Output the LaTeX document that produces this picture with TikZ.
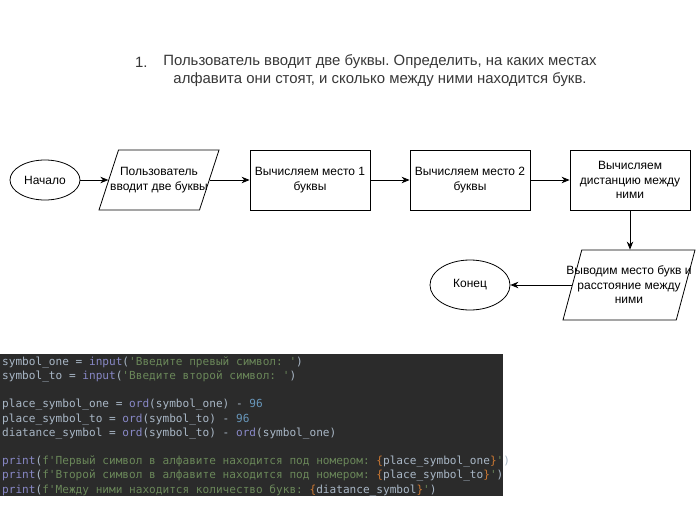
\documentclass[tikz,border=0pt]{standalone}
\usepackage{fontspec}
\setmainfont{Liberation Sans}
\newfontfamily\codefont{DejaVu Sans Mono}
\usetikzlibrary{shapes.geometric,arrows.meta}
\definecolor{cbg}{HTML}{2B2B2B}
\definecolor{cid}{HTML}{A9B7C6}
\definecolor{cfn}{HTML}{8888C6}
\definecolor{cstr}{HTML}{6A8759}
\definecolor{cnum}{HTML}{6897BB}
\definecolor{cbr}{HTML}{CC7832}
\definecolor{ttl}{HTML}{383838}
\newcommand{\kwF}[1]{\textcolor{cfn}{#1}}
\newcommand{\kwS}[1]{\textcolor{cstr}{#1}}
\newcommand{\kwN}[1]{\textcolor{cnum}{#1}}
\newcommand{\kwB}[1]{\textcolor{cbr}{#1}}
\newcommand{\q}{\textquotesingle}
\frenchspacing
\begin{document}
\begin{tikzpicture}[x=1pt,y=-1pt,
  box/.style={draw,line width=0.8pt,minimum width=120pt,minimum height=60pt,inner sep=0pt},
  term/.style={draw,ellipse,line width=0.8pt,inner sep=0pt},
  pio/.style={draw,trapezium,trapezium stretches body=true,line width=0.8pt,inner xsep=0pt},
  lbl/.style={font=\fontsize{12}{14.5}\selectfont,align=center,inner sep=0pt},
  ttlst/.style={font=\fontsize{14.9}{17}\selectfont,text=ttl,inner sep=0pt},
  arr/.style={-{Stealth[length=8pt,width=6.5pt]},line width=0.8pt},
  codeln/.style={anchor=base west,inner sep=0pt,font=\codefont\fontsize{11.1}{13}\selectfont\frenchspacing,text=cid}
]
\useasboundingbox (0,0) rectangle (696,509);
\fill[white] (0,0) rectangle (696,509);

% title
\node[ttlst,anchor=west] (num) at (135,62) {1.};
\node[ttlst] (t1) at (380,62) {Пользователь вводит две буквы. Определить, на каких местах};
\node[ttlst] (t2) at (380,80) {алфавита они стоят, и сколько между ними находится букв.};

% flowchart
\node[term,minimum width=70pt,minimum height=40pt] (start) at (45,180) {};
\node[lbl] (startT) at (start) {Начало};
\node[pio,trapezium left angle=72,trapezium right angle=108,inner ysep=30pt,minimum width=120pt] (p1) at (159,180) {};
\node[lbl] (p1T) at (p1) {Пользователь\\вводит две буквы};
\node[box] (b1) at (310,180) {};
\node[lbl] (b1T) at (b1) {Вычисляем место 1\\буквы};
\node[box] (b2) at (470,180) {};
\node[lbl] (b2T) at (b2) {Вычисляем место 2\\буквы};
\node[box] (b3) at (630,180) {};
\node[lbl] (b3T) at (b3) {Вычисляем\\дистанцию между\\ними};
\node[pio,trapezium left angle=75,trapezium right angle=105,inner ysep=35pt,minimum width=132pt] (p2) at (629,285) {};
\node[lbl] (p2T) at (p2) {Выводим место букв и\\расстояние между\\ними};
\node[term,minimum width=80pt,minimum height=50pt] (end) at (470,285) {};
\node[lbl] (endT) at (end) {Конец};

\draw[arr] (start) -- (p1);
\draw[arr] (p1) -- (b1);
\draw[arr] (b1) -- (b2);
\draw[arr] (b2) -- (b3);
\draw[arr] (b3.south) -- (b3.south |- p2.north);
\draw[arr] (p2) -- (end);

% code panel
\fill[cbg] (0,354) rectangle (503,496);
\node[codeln] (c1) at (2,365.3) {symbol\_one = \kwF{input}(\kwS{\q Введите превый символ: \q})};
\node[codeln] (c2) at (2,379.5) {symbol\_to = \kwF{input}(\kwS{\q Введите второй символ: \q})};
\node[codeln] (c4) at (2,407.9) {place\_symbol\_one = \kwF{ord}(symbol\_one) - \kwN{96}};
\node[codeln] (c5) at (2,422.1) {place\_symbol\_to = \kwF{ord}(symbol\_to) - \kwN{96}};
\node[codeln] (c6) at (2,436.3) {diatance\_symbol = \kwF{ord}(symbol\_to) - \kwF{ord}(symbol\_one)};
\node[codeln] (c8) at (2,464.7) {\kwF{print}(\kwS{f\q Первый символ в алфавите находится под номером: }\kwB{\{}place\_symbol\_one\kwB{\}}\kwS{\q})};
\node[codeln] (c9) at (2,478.9) {\kwF{print}(\kwS{f\q Второй символ в алфавите находится под номером: }\kwB{\{}place\_symbol\_to\kwB{\}}\kwS{\q})};
\node[codeln] (c10) at (2,493.1) {\kwF{print}(\kwS{f\q Между ними находится количество букв: }\kwB{\{}diatance\_symbol\kwB{\}}\kwS{\q})};
\end{tikzpicture}
\end{document}
